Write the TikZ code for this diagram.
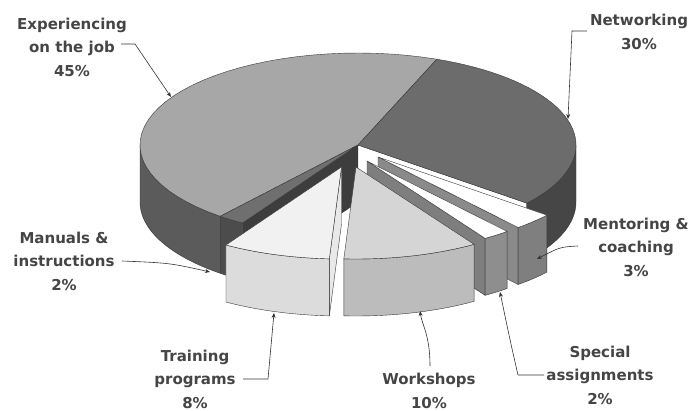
\documentclass[tikz,border=0pt]{standalone}
\usepackage{fontspec}
\setmainfont{DejaVu Sans}
\usetikzlibrary{arrows.meta}
\definecolor{edgec}{HTML}{383838}
\definecolor{txtc}{HTML}{454545}
\definecolor{arrc}{HTML}{333333}
\definecolor{expTop}{HTML}{A7A7A7}
\definecolor{expWall}{HTML}{5B5B5B}
\definecolor{manTop}{HTML}{6F6F6F}
\definecolor{manWall}{HTML}{4C4C4C}
\definecolor{cutA}{HTML}{3D3D3D}
\definecolor{netTop}{HTML}{6C6C6C}
\definecolor{netWall}{HTML}{464646}
\definecolor{trTop}{HTML}{F1F1F1}
\definecolor{trWall}{HTML}{DCDCDC}
\definecolor{trSide}{HTML}{E9E9E9}
\definecolor{wsTop}{HTML}{D5D5D5}
\definecolor{wsWall}{HTML}{BCBCBC}
\definecolor{spSide}{HTML}{7E7E7E}
\definecolor{spWall}{HTML}{8E8E8E}
\definecolor{meSide}{HTML}{8A8A8A}
\definecolor{meWall}{HTML}{7F7F7F}
\def\cx{358}\def\cy{145}\def\rx{218}\def\ry{92}\def\hh{57}
% outer wall: ox oy a1 a2 colour
\newcommand\wallface[5]{\filldraw[face,fill=#5] plot[domain=#3:#4,samples=40] ({\cx+#1+\rx*cos(\x)},{\cy+#2-\ry*sin(\x)}) -- plot[domain=#4:#3,samples=40] ({\cx+#1+\rx*cos(\x)},{\cy+#2-\ry*sin(\x)+\hh}) -- cycle;}
% top: ox oy a1 a2 colour
\newcommand\topface[5]{\filldraw[face,fill=#5] ({\cx+#1},{\cy+#2}) -- plot[domain=#3:#4,samples=40] ({\cx+#1+\rx*cos(\x)},{\cy+#2-\ry*sin(\x)}) -- cycle;}
% radial cut face: ox oy a colour
\newcommand\cutface[4]{\filldraw[face,fill=#4] ({\cx+#1},{\cy+#2}) -- ({\cx+#1+\rx*cos(#3)},{\cy+#2-\ry*sin(#3)}) -- ({\cx+#1+\rx*cos(#3)},{\cy+#2-\ry*sin(#3)+\hh}) -- ({\cx+#1},{\cy+#2+\hh}) -- cycle;}
\begin{document}
\begin{tikzpicture}[x=1pt,y=-1pt,
  face/.style={draw=edgec,line width=0.4pt,line join=round},
  lbl/.style={align=center,text=txtc,font=\fontsize{15}{23.5}\selectfont\bfseries,inner sep=0pt},
  arr/.style={draw=arrc,line width=0.6pt,-{Stealth[length=5pt,width=4pt]}}]
\useasboundingbox[fill=white] (0,0) rectangle (691,411);
% ---- main body (not exploded) ----
\wallface{0}{0}{180}{230.8}{expWall}
\wallface{0}{0}{230.8}{238}{manWall}
\cutface{0}{0}{238}{cutA}
\cutface{0}{0}{320.8}{white}
\wallface{0}{0}{320.8}{360}{netWall}
\topface{0}{0}{68.8}{230.8}{expTop}
\topface{0}{0}{230.8}{238}{manTop}
\topface{0}{0}{-39.2}{68.8}{netTop}
% ---- Mentoring & coaching ----
\cutface{20}{12}{310}{meSide}
\wallface{20}{12}{310}{320.8}{meWall}
\topface{20}{12}{310}{320.8}{white}
% ---- Special assignments ----
\cutface{9}{16}{302.8}{spSide}
\wallface{9}{16}{302.8}{310}{spWall}
\topface{9}{16}{302.8}{310}{white}
% ---- Workshops ----
\wallface{-2}{22}{266.8}{302.8}{wsWall}
\topface{-2}{22}{266.8}{302.8}{wsTop}
% ---- Training programs ----
\cutface{-16.5}{22}{266.8}{trSide}
\wallface{-16.5}{22}{238}{266.8}{trWall}
\topface{-16.5}{22}{238}{266.8}{trTop}
% ---- labels ----
\node[lbl] (lExp) at (72,47) {Experiencing\\on the job\\45\%};
\node[lbl] (lNet) at (639,32) {Networking\\30\%};
\node[lbl] (lMen) at (636,247) {Mentoring \&\\coaching\\3\%};
\node[lbl] (lSpe) at (600,375) {Special\\assignments\\2\%};
\node[lbl] (lWor) at (429,391) {Workshops\\10\%};
\node[lbl] (lTra) at (195,379) {Training\\programs\\8\%};
\node[lbl] (lMan) at (64,261) {Manuals \&\\instructions\\2\%};
% ---- connector ends ----
\coordinate (sExp) at (121,44);  \coordinate (tExp) at (171,97);
\coordinate (sNet) at (587,31);  \coordinate (tNet) at (568,119);
\coordinate (sMen) at (578,246); \coordinate (tMen) at (537,259);
\coordinate (sSpe) at (544,375); \coordinate (tSpe) at (500,292);
\coordinate (sWor) at (430,366); \coordinate (tWor) at (420,311);
\coordinate (sTra) at (243,379); \coordinate (tTra) at (274,313);
\coordinate (sMan) at (122,261); \coordinate (tMan) at (210,272);
\draw[arr] (sExp) -- (135,44) -- (tExp);
\draw[arr] (sNet) -- (572,31) -- (tNet);
\draw[arr] (sMen) .. controls (560,247) .. (tMen);
\draw[arr] (sSpe) -- (518,375) .. controls (510,340) .. (tSpe);
\draw[arr] (sWor) .. controls (430,335) and (422,325) .. (tWor);
\draw[arr] (sTra) -- (268,379) -- (tTra);
\draw[arr] (sMan) .. controls (170,263) .. (tMan);
\end{tikzpicture}
\end{document}
